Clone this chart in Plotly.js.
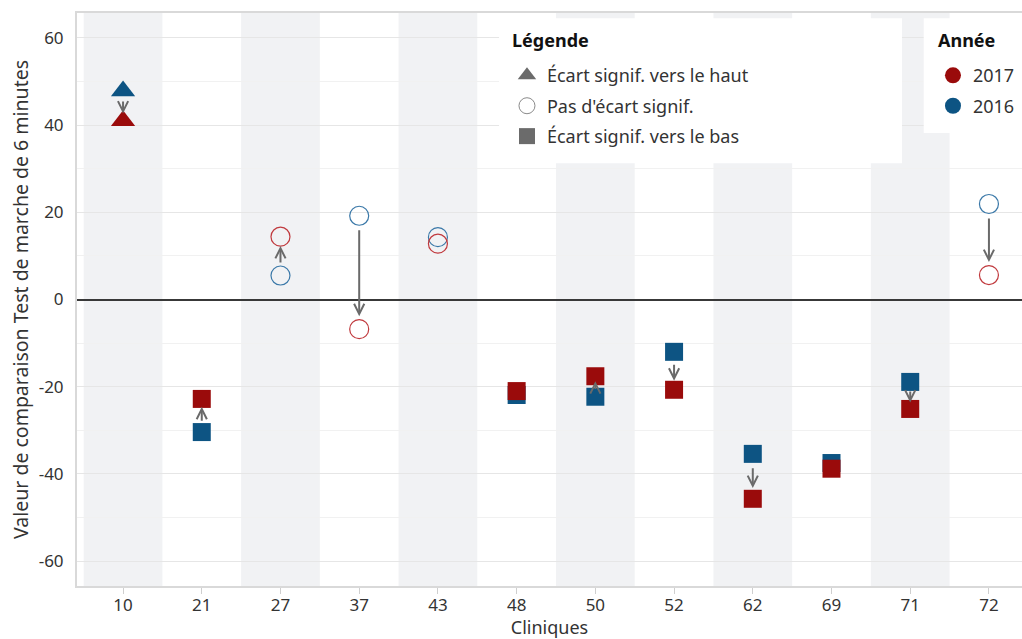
<!DOCTYPE html>
<html><head><meta charset="utf-8">
<script src="https://cdn.plot.ly/plotly-3.0.1.min.js"></script>
<style>html,body{margin:0;padding:0;background:#fff}#chart{width:1022px;height:639px}</style>
</head><body><div id="chart"></div>
<script>
// ---- Data ----
const cliniques = ['10','21','27','37','43','48','50','52','62','69','71','72'];
const valeurs2016 = [47.8,-30.4,5.5,19.2,14.3,-21.9,-22.3,-12.0,-35.4,-37.5,-18.9,21.9];
const valeurs2017 = [41.0,-22.8,14.4,-6.8,12.8,-21.0,-17.6,-20.7,-45.7,-38.8,-25.1,5.6];
const ecart = ['haut','bas','aucun','aucun','aucun','bas','bas','bas','bas','bas','bas','aucun'];
const legendeLabels = ['Écart signif. vers le haut', "Pas d'écart signif.", 'Écart signif. vers le bas'];
const annees = ['2017','2016'];
const yTicks = [-60,-40,-20,0,20,40,60];

// ---- Styles ----
const FONT = '"Noto Sans", "Open Sans", sans-serif';
const TXT = '#333333';
const C17 = '#9a0b0b', C16 = '#0d5483';
const O17 = '#c0393d', O16 = '#3a78a8';
const GREY = '#6b6b6b';
const margin = {l:77, r:0, t:13, b:53};
const yRange = [-65.7, 65.7];
const ppu = (639 - margin.t - margin.b) / (yRange[1] - yRange[0]);

const symbolOf = e => e === 'haut' ? 'triangle-up' : (e === 'bas' ? 'square' : 'circle-open');
const sizeOf = e => e === 'haut' ? 21 : (e === 'bas' ? 18 : 19);

function yearTrace(name, vals, fill, outline) {
  const cols = ecart.map(e => e === 'aucun' ? outline : fill);
  return {
    type: 'scatter', mode: 'markers', name: name, showlegend: false,
    x: cliniques, y: vals,
    marker: {
      symbol: ecart.map(symbolOf), size: ecart.map(sizeOf), color: cols, opacity: 1,
      line: {color: cols, width: ecart.map(e => e === 'aucun' ? 1.2 : 0)}
    },
    hoverinfo: 'x+y+name'
  };
}

const traces = [
  yearTrace('2016', valeurs2016, C16, O16),
  yearTrace('2017', valeurs2017, C17, O17)
];

// legend entries
const legSymbols = ['triangle-up', 'circle-open', 'square'];
const legColors = [GREY, '#8a8a8a', GREY];
legendeLabels.forEach((lab, i) => {
  traces.push({type:'scatter', mode:'markers', x:[null], y:[null], name: lab,
    legend:'legend', legendgroup:'g'+i, showlegend:true,
    marker:{symbol: legSymbols[i], size: 16, color: legColors[i], line:{width: i===1?1:0, color: legColors[i]}}});
});
annees.forEach((a, i) => {
  traces.push({type:'scatter', mode:'markers', x:[null], y:[null], name: a,
    legend:'legend2', legendgroup:'h'+i, showlegend:true,
    marker:{symbol:'circle', size: 16, color: a === '2017' ? C17 : C16}});
});

// alternating bands
const shapes = [];
cliniques.forEach((c, i) => {
  if (i % 2 === 0) shapes.push({type:'rect', xref:'x', yref:'paper', x0:i-0.5, x1:i+0.5, y0:0, y1:1,
    fillcolor:'#f1f2f4', line:{width:0}, layer:'below'});
});
// legend boxes (paper coords)
shapes.push({type:'rect', xref:'paper', yref:'paper', x0:0.4466, x1:0.873, y0:0.738, y1:0.991,
  fillcolor:'#ffffff', line:{width:0}, layer:'above'});
shapes.push({type:'rect', xref:'paper', yref:'paper', x0:0.896, x1:1.0, y0:0.7906, y1:0.991,
  fillcolor:'#ffffff', line:{width:0}, layer:'above'});

// arrows 2016 -> 2017 (x given as category index)
const annotations = cliniques.map((c, i) => {
  const d = Math.abs(valeurs2017[i] - valeurs2016[i]) * ppu;
  return {x: i, y: valeurs2017[i], ax: i, ay: valeurs2016[i], xref:'x', yref:'y', axref:'x', ayref:'y',
    text:'', showarrow:true, arrowhead:5, arrowsize:1, arrowwidth:2, arrowcolor:'#6a6a6a',
    standoff: Math.min(13, 0.24*d), startstandoff: Math.min(13, 0.3*d)};
});
// legend titles
annotations.push({xref:'paper', yref:'paper', x:0.4582, y:0.953, xanchor:'left', yanchor:'middle',
  text:'<b>Légende</b>', showarrow:false, font:{size:18, color:'#111111'}});
annotations.push({xref:'paper', yref:'paper', x:0.909, y:0.953, xanchor:'left', yanchor:'middle',
  text:'<b>Année</b>', showarrow:false, font:{size:18, color:'#111111'}});

const layout = {
  width:1022, height:639, margin: margin,
  paper_bgcolor:'#ffffff', plot_bgcolor:'#ffffff',
  font:{family: FONT, size:17, color: TXT},
  showlegend:true,
  xaxis:{type:'category', categoryorder:'array', categoryarray: cliniques,
    range:[-0.585, 11.42], showgrid:false, zeroline:false,
    showline:true, linecolor:'#d9d9d9', linewidth:2, mirror:true,
    ticks:'outside', ticklen:6, tickcolor:'#cfcfcf', tickwidth:1, ticklabelstandoff:-3,
    tickfont:{size:17, color:TXT},
    title:{text:'Cliniques', font:{size:18, color:TXT}, standoff:9}, fixedrange:true},
  yaxis:{range: yRange, tickvals: yTicks, ticktext: yTicks.map(String),
    showgrid:true, gridcolor:'#e6e6e6', gridwidth:1,
    minor:{dtick:10, tick0:0, showgrid:true, gridcolor:'#f1f1f1', gridwidth:1},
    zeroline:true, zerolinecolor:'#383838', zerolinewidth:2,
    showline:true, linecolor:'#d9d9d9', linewidth:2,
    ticks:'', ticklabelstandoff:8, tickfont:{size:17, color:TXT},
    title:{text:'Valeur de comparaison Test de marche de 6 minutes', font:{size:19.5, color:TXT}, standoff:5}, fixedrange:true},
  shapes: shapes,
  annotations: annotations,
  legend:{x:0.455, y:0.923, xanchor:'left', yanchor:'top', bgcolor:'rgba(0,0,0,0)', borderwidth:0,
    font:{size:18, color:TXT},
    traceorder:'grouped', tracegroupgap:4, itemclick:false, itemdoubleclick:false},
  legend2:{x:0.9058, y:0.923, xanchor:'left', yanchor:'top', bgcolor:'rgba(0,0,0,0)', borderwidth:0,
    font:{size:18, color:TXT},
    traceorder:'grouped', tracegroupgap:4, itemclick:false, itemdoubleclick:false}
};

Plotly.newPlot('chart', traces, layout, {displayModeBar:false, staticPlot:true});
</script></body></html>
